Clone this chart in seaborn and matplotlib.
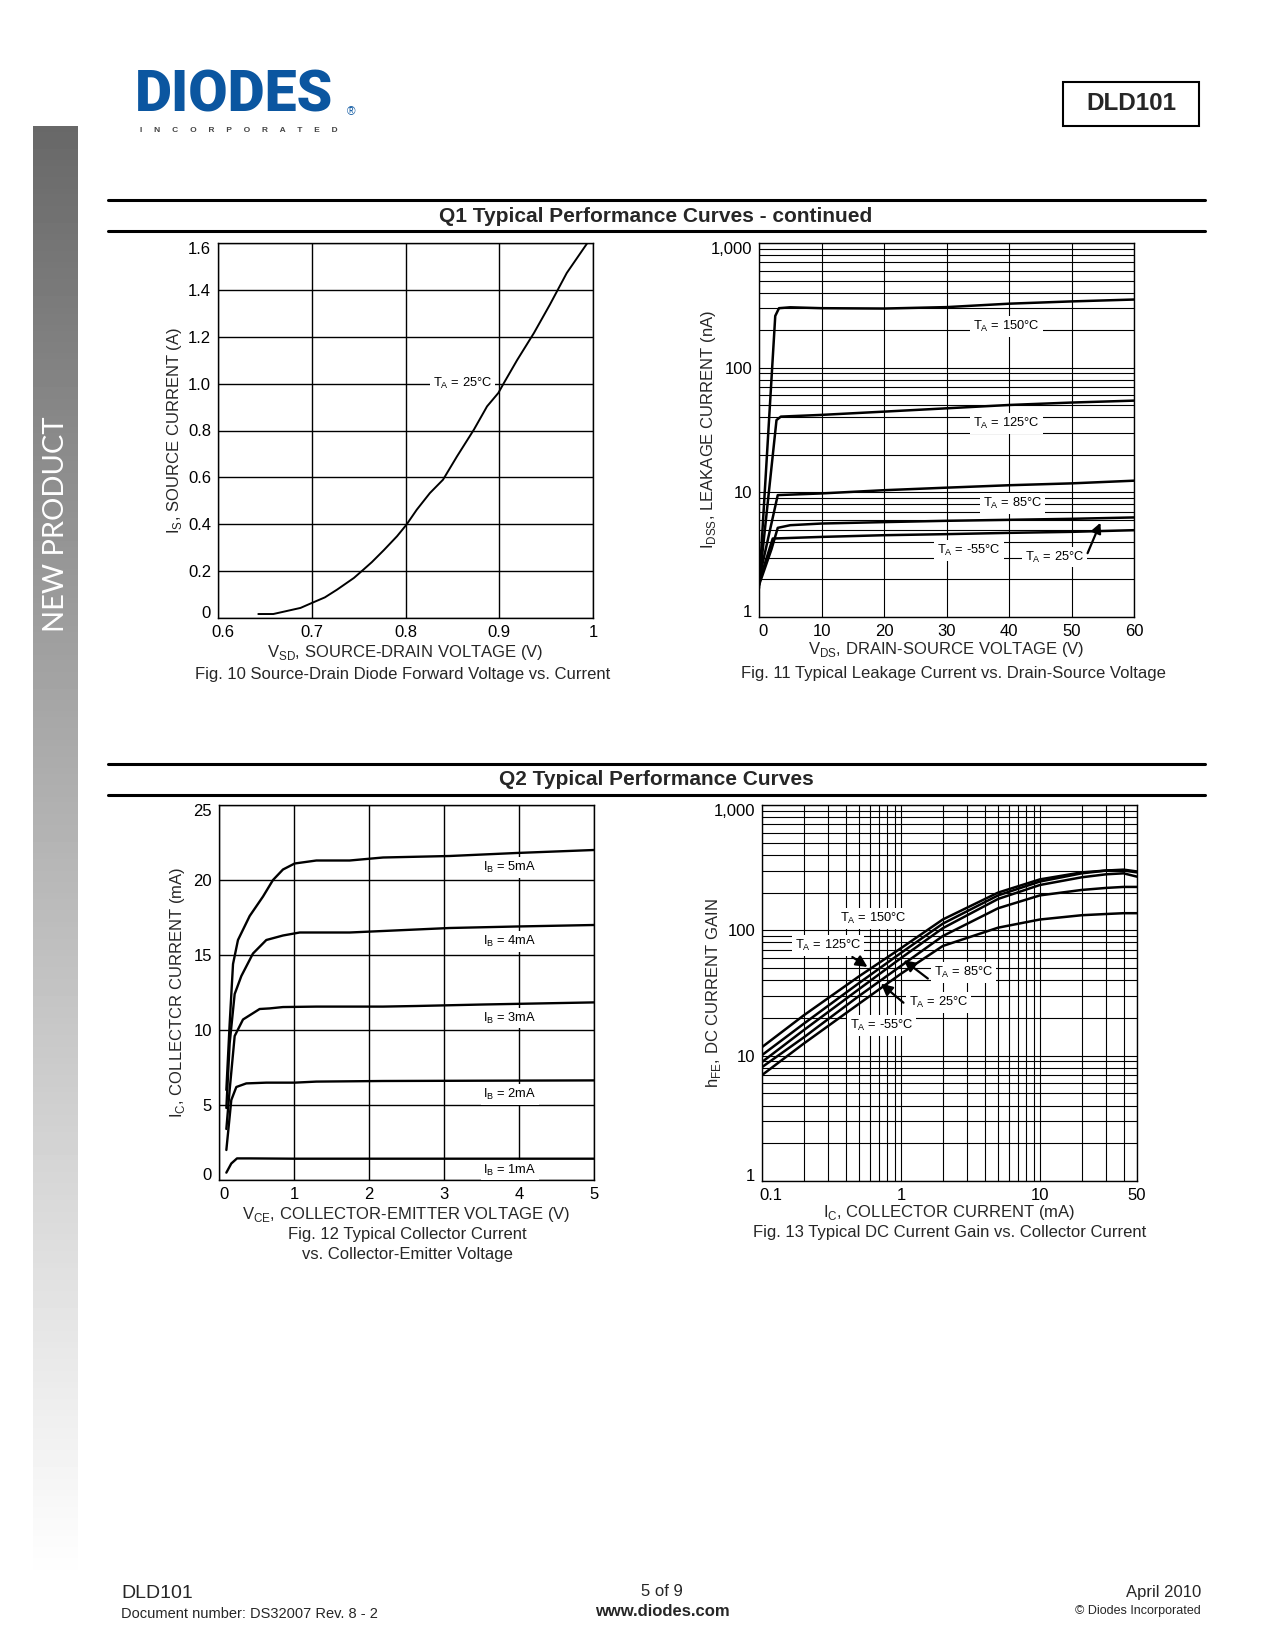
import matplotlib
matplotlib.use('Agg')
import matplotlib.pyplot as plt
import seaborn as sns
import numpy as np
from matplotlib.ticker import LogLocator, NullFormatter, FixedLocator
from matplotlib.patches import Rectangle
from matplotlib.lines import Line2D
from matplotlib.transforms import ScaledTranslation

# ---- data ----
# Fig. 10  source-drain diode forward voltage vs current
vsd = [0.643, 0.659, 0.688, 0.700, 0.714, 0.727, 0.745, 0.755, 0.764, 0.777, 0.791, 0.801, 0.812,
       0.826, 0.840, 0.855, 0.873, 0.887, 0.899, 0.905, 0.919, 0.937, 0.954, 0.972, 0.994]
i_s = [0.017, 0.017, 0.043, 0.064, 0.088, 0.121, 0.171, 0.206, 0.238, 0.290, 0.349, 0.398, 0.462,
       0.533, 0.590, 0.690, 0.804, 0.903, 0.960, 1.003, 1.100, 1.216, 1.337, 1.472, 1.600]

# Fig. 11  leakage current vs drain-source voltage (nA)
vds_150 = [0, 2.6, 3.2, 5, 10, 20, 30, 40, 50, 60]
idss_150 = [1.7, 260, 300, 305, 300, 298, 306, 326, 340, 352]
vds_125 = [0, 2.8, 3.5, 10, 20, 30, 40, 50, 60]
idss_125 = [1.8, 38, 40.5, 41.8, 44.4, 47.2, 50.2, 52.5, 54.4]
vds_85 = [0, 3.0, 10, 20, 30, 40, 50, 60]
idss_85 = [2.0, 9.5, 9.8, 10.4, 10.9, 11.4, 11.8, 12.4]
vds_25 = [0, 2.0, 3.0, 5, 10, 20, 30, 40, 50, 60]
idss_25 = [1.8, 3.5, 5.19, 5.45, 5.62, 5.77, 5.91, 6.02, 6.13, 6.29]
vds_m55 = [0, 2.2, 10, 20, 30, 40, 50, 60]
idss_m55 = [1.9, 4.26, 4.39, 4.53, 4.62, 4.73, 4.82, 4.97]

# Fig. 12  collector current vs collector-emitter voltage (mA)
vce_5 = [0.098, 0.142, 0.187, 0.253, 0.409, 0.587, 0.72, 0.853, 1.009, 1.298, 1.742, 2.187, 3.076, 3.964, 5.0]
ic_5 = [6.0, 10.4, 14.4, 16.0, 17.6, 18.9, 20.0, 20.7, 21.1, 21.3, 21.3, 21.5, 21.6, 21.8, 22.0]
vce_4 = [0.098, 0.142, 0.209, 0.298, 0.453, 0.631, 0.853, 1.076, 1.742, 2.187, 3.076, 3.964, 5.0]
ic_4 = [4.8, 9.1, 12.4, 13.6, 15.1, 16.0, 16.3, 16.5, 16.5, 16.6, 16.8, 16.9, 17.0]
vce_3 = [0.098, 0.142, 0.209, 0.32, 0.542, 0.676, 0.853, 1.298, 2.187, 2.631, 3.52, 5.0]
ic_3 = [3.4, 6.0, 9.6, 10.7, 11.4, 11.44, 11.53, 11.56, 11.56, 11.6, 11.7, 11.84]
vce_2 = [0.098, 0.164, 0.231, 0.364, 0.631, 1.009, 1.298, 2.187, 3.52, 5.0]
ic_2 = [2.0, 5.33, 6.2, 6.44, 6.49, 6.49, 6.56, 6.6, 6.62, 6.64]
vce_1 = [0.098, 0.164, 0.24, 0.409, 1.009, 5.0]
ic_1 = [0.49, 1.1, 1.44, 1.44, 1.42, 1.42]

# Fig. 13  DC current gain vs collector current
ic_ma = [0.1, 0.2, 0.5, 1, 2, 5, 10, 20, 30, 40, 50]
hfe_150 = [11.7, 21, 43, 72, 122, 200, 255, 290, 300, 300, 290]
hfe_125 = [10.1, 18, 38, 66, 113, 190, 245, 285, 300, 305, 295]
hfe_85 = [8.9, 16, 34, 60, 104, 178, 230, 265, 280, 285, 268]
hfe_25 = [8.1, 14, 30, 52, 90, 150, 190, 210, 218, 222, 222]
hfe_m55 = [7.0, 12.5, 26, 45, 75, 105, 122, 132, 135, 137, 137]

# ---- page setup ----
sns.set_theme(style='white')
plt.rcParams['font.family'] = ['Liberation Sans', 'DejaVu Sans']
plt.rcParams['mathtext.fontset'] = 'custom'
plt.rcParams['mathtext.rm'] = 'Liberation Sans'

W, H = 1275, 1650
fig = plt.figure(figsize=(W / 100, H / 100), dpi=100)
fig.patch.set_facecolor('white')

TICK_FS = 12
LABEL_FS = 12
CAP_FS = 12


def fx(x):
    return x / W


def fy(y):
    return 1 - y / H


def px_axes(l, t, r, b):
    return fig.add_axes([fx(l), fy(b), (r - l) / W, (b - t) / H])


def ftext(x, y, s, **kw):
    fig.text(fx(x), fy(y), s, **kw)


def hline(x0, x1, y, lw):
    fig.add_artist(Line2D([fx(x0), fx(x1)], [fy(y), fy(y)], color='black', lw=lw,
                          transform=fig.transFigure))


def nudge(label, dx, dy):
    label.set_transform(label.get_transform() + ScaledTranslation(dx / 100, dy / 100, fig.dpi_scale_trans))


def style_axes(ax, grid_lw=1.0):
    ax.set_facecolor('white')
    for sp in ax.spines.values():
        sp.set_color('black')
        sp.set_linewidth(1.0)
        sp.set_visible(True)
    ax.grid(True, which='both', color='black', lw=grid_lw)
    ax.set_axisbelow(True)
    ax.tick_params(which='both', length=0, labelsize=TICK_FS, colors='black', pad=5)


def finish_axes(ax, xlab, ylab, xl_y, yl_x, first_dx=5):
    ax.set_xlabel(xlab, fontsize=LABEL_FS, va='top')
    ax.set_ylabel(ylab, fontsize=LABEL_FS)
    ax.xaxis.set_label_coords(0.5, xl_y)
    ax.yaxis.set_label_coords(yl_x, 0.5)
    xl = ax.get_xticklabels()
    yl = ax.get_yticklabels()
    nudge(xl[0], first_dx, 0)
    nudge(yl[0], 0, 6)
    nudge(yl[-1], 0, -5)


LBL = dict(fontsize=9.3, ha='center', va='center', color='black',
           bbox=dict(facecolor='white', edgecolor='none', pad=2.0))

# sidebar gradient
side = px_axes(33, 126, 78, 1581)
grad = np.linspace(0.37, 1.0, 256) ** 0.9
side.imshow(np.vstack([grad, grad]).T, aspect='auto', cmap='gray', vmin=0, vmax=1,
            extent=[0, 1, 1, 0])
side.axis('off')
ftext(56, 524, 'NEW PRODUCT', rotation=90, color='white', fontsize=21, family=['Lato', 'Liberation Sans'],
      ha='center', va='center')

# logo
ftext(135, 111, 'DIODES', fontsize=41, fontweight='black', family=['Roboto', 'Liberation Sans'],
      color='#0b56a0', ha='left', va='baseline')
fig.add_artist(Line2D([fx(140), fx(260)], [fy(92), fy(92)], color='white', lw=1.6,
                      transform=fig.transFigure))
ftext(140, 127, 'I     N     C     O     R     P     O     R     A     T     E     D', fontsize=6,
      fontweight='bold', color='#444444', ha='left', va='top')
ftext(351, 112, '®', fontsize=8.5, color='#0b56a0', ha='center', va='center')

# part number box
fig.add_artist(Rectangle((fx(1063), fy(126)), (1199 - 1063) / W, (126 - 82) / H, fill=False,
                         edgecolor='black', lw=1.5, transform=fig.transFigure))
ftext(1131, 104, 'DLD101', fontsize=17.5, fontweight='bold', ha='center', va='center')

# section headers
hline(108, 1205, 200, 2.2)
hline(108, 1205, 231, 2.2)
ftext(656, 216, 'Q1 Typical Performance Curves - continued', fontsize=15, fontweight='bold',
      ha='center', va='center')
hline(108, 1205, 764, 2.2)
hline(108, 1205, 795, 2.2)
ftext(656, 780, 'Q2 Typical Performance Curves', fontsize=15, fontweight='bold',
      ha='center', va='center')

# ---- Fig. 10 ----
ax1 = px_axes(218, 243, 593, 618)
style_axes(ax1)
sns.lineplot(x=vsd, y=i_s, ax=ax1, color='black', lw=1.4, sort=False, estimator=None)
ax1.set_xlim(0.6, 1.0)
ax1.set_ylim(0, 1.6)
ax1.set_xticks([0.6, 0.7, 0.8, 0.9, 1.0], labels=['0.6', '0.7', '0.8', '0.9', '1'])
ax1.set_yticks([0, 0.2, 0.4, 0.6, 0.8, 1.0, 1.2, 1.4, 1.6],
               labels=['0', '0.2', '0.4', '0.6', '0.8', '1.0', '1.2', '1.4', '1.6'])
finish_axes(ax1, r'V$_\mathregular{SD}$, SOURCE-DRAIN VOLTAGE (V)',
            r'I$_\mathregular{S}$, SOURCE CURRENT (A)', -0.066, -0.092)
ax1.text(0.861, 1.0, r'T$_\mathregular{A}$ = 25°C', **LBL)
ftext(403, 674, 'Fig. 10 Source-Drain Diode Forward Voltage vs. Current', fontsize=CAP_FS,
      ha='center', va='center')

# ---- Fig. 11 ----
ax2 = px_axes(759, 243, 1134, 617)
style_axes(ax2, grid_lw=0.8)
for xs, ys in [(vds_150, idss_150), (vds_125, idss_125), (vds_85, idss_85),
               (vds_25, idss_25), (vds_m55, idss_m55)]:
    sns.lineplot(x=xs, y=ys, ax=ax2, color='black', lw=1.8, sort=False, estimator=None)
ax2.set_yscale('log')
ax2.set_xlim(0, 60)
ax2.set_ylim(1, 1000)
ax2.set_xticks(range(0, 61, 10))
ax2.set_yticks([1, 10, 100, 1000], labels=['1', '10', '100', '1,000'])
ax2.yaxis.set_minor_locator(LogLocator(base=10, subs=range(2, 10), numticks=20))
ax2.yaxis.set_minor_formatter(NullFormatter())
finish_axes(ax2, r'V$_\mathregular{DS}$, DRAIN-SOURCE VOLTAGE (V)',
            r'I$_\mathregular{DSS}$, LEAKAGE CURRENT (nA)', -0.062, -0.108, first_dx=4)
ax2.text(39.6, 214, r'T$_\mathregular{A}$ = 150°C', **LBL)
ax2.text(39.6, 35.8, r'T$_\mathregular{A}$ = 125°C', **LBL)
ax2.text(40.6, 8.14, r'T$_\mathregular{A}$ = 85°C', **LBL)
ax2.text(33.6, 3.43, r'T$_\mathregular{A}$ = -55°C', **LBL)
ax2.text(47.3, 3.03, r'T$_\mathregular{A}$ = 25°C', **LBL)
ax2.annotate('', xy=(54.8, 5.98), xytext=(52.4, 3.1),
             arrowprops=dict(arrowstyle='-|>', color='black', lw=1.6, mutation_scale=15))
ftext(953, 673, 'Fig. 11 Typical Leakage Current vs. Drain-Source Voltage', fontsize=CAP_FS,
      ha='center', va='center')

# ---- Fig. 12 ----
ax3 = px_axes(219, 805, 594, 1180)
style_axes(ax3)
for xs, ys in [(vce_5, ic_5), (vce_4, ic_4), (vce_3, ic_3), (vce_2, ic_2), (vce_1, ic_1)]:
    sns.lineplot(x=xs, y=ys, ax=ax3, color='black', lw=1.7, sort=False, estimator=None)
ax3.set_xlim(0, 5)
ax3.set_ylim(0, 25)
ax3.set_xticks(range(0, 6))
ax3.set_yticks(range(0, 26, 5))
finish_axes(ax3, r'V$_\mathregular{CE}$, COLLECTOR-EMITTER VOLTAGE (V)',
            r'I$_\mathregular{C}$, COLLECTCR CURRENT (mA)', -0.068, -0.086)
for yv, s in [(20.84, '5mA'), (15.9, '4mA'), (10.8, '3mA'), (5.7, '2mA'), (0.67, '1mA')]:
    ax3.text(3.88, yv, r'I$_\mathregular{B}$ = ' + s, **LBL)
ftext(407, 1235, 'Fig. 12 Typical Collector Current', fontsize=CAP_FS, ha='center', va='center')
ftext(407, 1254, 'vs. Collector-Emitter Voltage', fontsize=CAP_FS, ha='center', va='center')

# ---- Fig. 13 ----
ax4 = px_axes(762, 805, 1137, 1181)
style_axes(ax4, grid_lw=0.8)
for ys in [hfe_150, hfe_125, hfe_85, hfe_25, hfe_m55]:
    sns.lineplot(x=ic_ma, y=ys, ax=ax4, color='black', lw=1.8, sort=False, estimator=None)
ax4.set_xscale('log')
ax4.set_yscale('log')
ax4.set_xlim(0.1, 50)
ax4.set_ylim(1, 1000)
ax4.set_xticks([0.1, 1, 10, 50], labels=['0.1', '1', '10', '50'])
ax4.set_yticks([1, 10, 100, 1000], labels=['1', '10', '100', '1,000'])
ax4.xaxis.set_minor_locator(FixedLocator([0.2, 0.3, 0.4, 0.5, 0.6, 0.7, 0.8, 0.9,
                                          2, 3, 4, 5, 6, 7, 8, 9, 20, 30, 40]))
ax4.xaxis.set_minor_formatter(NullFormatter())
ax4.yaxis.set_minor_locator(LogLocator(base=10, subs=range(2, 10), numticks=20))
ax4.yaxis.set_minor_formatter(NullFormatter())
finish_axes(ax4, r'I$_\mathregular{C}$, COLLECTOR CURRENT (mA)',
            r'h$_\mathregular{FE}$, DC CURRENT GAIN', -0.058, -0.104, first_dx=9)
ARW = dict(arrowstyle='-|>', color='black', lw=1.6, mutation_scale=17)
ax4.text(0.631, 124, r'T$_\mathregular{A}$ = 150°C', **LBL)
ax4.text(0.299, 76.2, r'T$_\mathregular{A}$ = 125°C', **LBL)
ax4.annotate('', xy=(0.597, 49.6), xytext=(0.43, 63), arrowprops=ARW)
ax4.text(2.81, 45.8, r'T$_\mathregular{A}$ = 85°C', **LBL)
ax4.annotate('', xy=(1.01, 59.6), xytext=(1.62, 40), arrowprops=ARW)
ax4.text(1.86, 26.5, r'T$_\mathregular{A}$ = 25°C', **LBL)
ax4.annotate('', xy=(0.693, 38.8), xytext=(1.08, 25.6), arrowprops=ARW)
ax4.text(0.726, 17.3, r'T$_\mathregular{A}$ = -55°C', **LBL)
ftext(950, 1233, 'Fig. 13 Typical DC Current Gain vs. Collector Current', fontsize=CAP_FS,
      ha='center', va='center')

# ---- footer ----
ftext(121, 1593, 'DLD101', fontsize=14, ha='left', va='center')
ftext(121, 1614, 'Document number: DS32007 Rev. 8 - 2', fontsize=10.5, ha='left', va='center')
ftext(662, 1591, '5 of 9', fontsize=12, ha='center', va='center')
ftext(662, 1612, 'www.diodes.com', fontsize=12, fontweight='bold', ha='center', va='center')
ftext(1201, 1593, 'April 2010', fontsize=12, ha='right', va='center')
ftext(1201, 1611, '© Diodes Incorporated', fontsize=9, ha='right', va='center')

fig.savefig('out.png', dpi=100, facecolor='white')
